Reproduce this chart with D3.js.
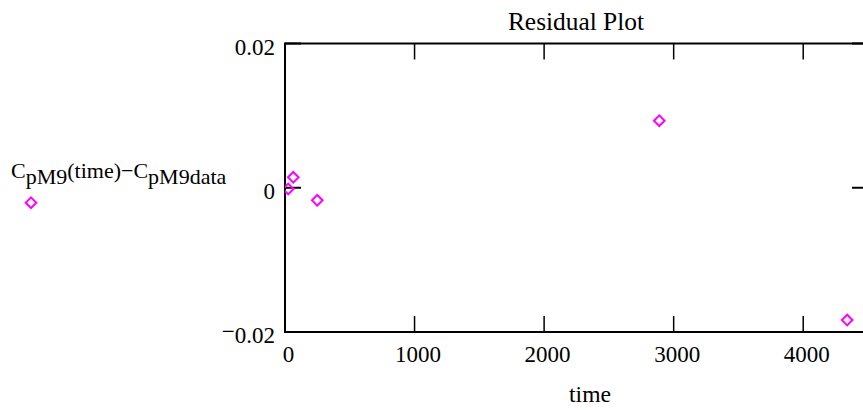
<!DOCTYPE html>
<html>
<head>
<meta charset="utf-8">
<script src="https://cdn.jsdelivr.net/npm/d3@7"></script>
<style>
  body { margin: 0; background: #fff; }
  text { font-family: "Liberation Serif", "Times New Roman", Times, "DejaVu Serif", serif; }
</style>
</head>
<body>
<script>
// residuals
const times = [25, 64, 249, 2889, 4339];
const residuals = [-0.00017, 0.00145, -0.00174, 0.0093, -0.01834];
const xTicks = [0, 1000, 2000, 3000, 4000];
const yTicks = [-0.02, 0, 0.02];

const W = 863, H = 410;
const plot = {left: 285, right: 868, top: 43.5, bottom: 332};

const svg = d3.select("body")
  .append("svg")
  .attr("width", W)
  .attr("height", H)
  .attr("font-family", "'Liberation Serif', 'Times New Roman', Times, serif");

const x = d3.scaleLinear()
  .domain([0, 4500])
  .range([plot.left, plot.right]);

const y = d3.scaleLinear()
  .domain([-0.02, 0.02])
  .range([plot.bottom, plot.top]);

svg.append("defs").append("clipPath")
  .attr("id", "clip")
  .append("rect")
  .attr("x", plot.left)
  .attr("y", plot.top)
  .attr("width", plot.right - plot.left)
  .attr("height", plot.bottom - plot.top);

// frame
svg.append("rect")
  .attr("x", plot.left)
  .attr("y", plot.top)
  .attr("width", plot.right - plot.left)
  .attr("height", plot.bottom - plot.top)
  .attr("fill", "none")
  .attr("stroke", "#000")
  .attr("stroke-width", 2);

const tickLen = 16;

// x ticks, top and bottom, pointing inward
svg.append("g").selectAll("line.xb")
  .data(xTicks)
  .enter()
  .append("line")
  .attr("x1", d => x(d)).attr("x2", d => x(d))
  .attr("y1", plot.bottom).attr("y2", plot.bottom - tickLen)
  .attr("stroke", "#000").attr("stroke-width", 1.5);

svg.append("g").selectAll("line.xt")
  .data(xTicks)
  .enter()
  .append("line")
  .attr("x1", d => x(d)).attr("x2", d => x(d))
  .attr("y1", plot.top).attr("y2", plot.top + tickLen)
  .attr("stroke", "#000").attr("stroke-width", 1.5);

// y ticks, left and right
svg.append("g").selectAll("line.yl")
  .data(yTicks)
  .enter()
  .append("line")
  .attr("x1", plot.left).attr("x2", plot.left + tickLen)
  .attr("y1", d => y(d)).attr("y2", d => y(d))
  .attr("stroke", "#000").attr("stroke-width", 2);

svg.append("g").selectAll("line.yr")
  .data(yTicks)
  .enter()
  .append("line")
  .attr("x1", plot.right).attr("x2", plot.right - tickLen)
  .attr("y1", d => y(d)).attr("y2", d => y(d))
  .attr("stroke", "#000").attr("stroke-width", 2);

// tick labels
svg.append("g").selectAll("text")
  .data(xTicks)
  .enter()
  .append("text")
  .attr("x", d => x(d) + 3.5)
  .attr("y", plot.bottom + 30)
  .attr("text-anchor", "middle")
  .attr("font-size", 23)
  .text(d => d);

const yLab = svg.append("g").selectAll("text")
  .data(yTicks)
  .enter()
  .append("text")
  .attr("x", plot.left - 10)
  .attr("y", d => y(d) + 11)
  .attr("text-anchor", "end")
  .attr("font-size", 23);

yLab.each(function(d) {
  const t = d3.select(this);
  if (d < 0) {
    t.append("tspan").attr("dy", -4).text("\u2212");
    t.append("tspan").attr("dy", 4).text(d3.format(".2f")(-d));
  } else {
    t.text(d === 0 ? "0" : d3.format(".2f")(d));
  }
});

// title and axis label
svg.append("text")
  .attr("x", 576)
  .attr("y", 30)
  .attr("text-anchor", "middle")
  .attr("font-size", 25.4)
  .text("Residual Plot");

svg.append("text")
  .attr("x", 590)
  .attr("y", 402)
  .attr("text-anchor", "middle")
  .attr("font-size", 23.6)
  .text("time");

// trace label with subscripts
const lab = svg.append("text")
  .attr("x", 11)
  .attr("y", 178)
  .attr("font-size", 22);
lab.append("tspan").text("C");
lab.append("tspan").attr("dy", 6).text("pM9");
lab.append("tspan").attr("dy", -6).text("(time)\u2212C");
lab.append("tspan").attr("dy", 6).text("pM9data");

const diamond = d3.symbol().type(d3.symbolDiamond2).size(72);
const magenta = "#ff00ff";

svg.append("path")
  .attr("d", diamond())
  .attr("transform", "translate(31,202.7)")
  .attr("fill", "none")
  .attr("stroke", magenta)
  .attr("stroke-width", 2);

svg.append("g")
  .attr("clip-path", "url(#clip)")
  .selectAll("path")
  .data(times)
  .enter()
  .append("path")
  .attr("d", diamond())
  .attr("transform", (d, i) => `translate(${x(d)},${y(residuals[i])})`)
  .attr("fill", "none")
  .attr("stroke", magenta)
  .attr("stroke-width", 2);
</script>
</body>
</html>
